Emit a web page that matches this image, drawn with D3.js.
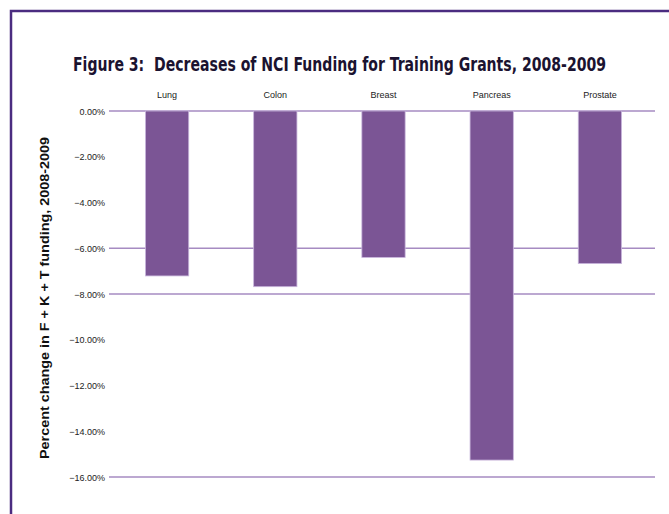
<!DOCTYPE html>
<html>
<head>
<meta charset="utf-8">
<script src="https://cdn.jsdelivr.net/npm/d3@7"></script>
<style>
body{margin:0;background:#fff}
svg{display:block}
</style>
</head>
<body>
<div id="chart"></div>
<script>
// data
const cancers=["Lung","Colon","Breast","Pancreas","Prostate"]
const pctChange=[-7.21,-7.68,-6.40,-15.26,-6.67]
const yTicks=[0,-2,-4,-6,-8,-10,-12,-14,-16]
const gridAt=[0,-6,-8,-16]

const W=669,H=514
let svg=d3.select('#chart').append('svg').attr('width',W).attr('height',H)

// frame
svg.append('path').attr('d','M11,600 L11,11 L680,11')
  .attr('fill','none').attr('stroke','#4b2c80').attr('stroke-width',2.5)

svg.append('text').attr('x',73).attr('y',71)
  .attr('textLength',533).attr('lengthAdjust','spacingAndGlyphs')
  .style('white-space','pre')
  .style('font-family','"DejaVu Sans Condensed","Liberation Sans Narrow",sans-serif')
  .style('font-weight','bold').style('font-size','20px').attr('fill','#1b1330')
  .text('Figure 3:  Decreases of NCI Funding for Training Grants, 2008-2009')

let x=d3.scaleBand().domain(cancers).range([113,654]).paddingInner(0.6).paddingOuter(0.3)
let y=d3.scaleLinear().domain([0,-16]).range([111,477])

// grid lines (only some are drawn in the original)
svg.append('g').selectAll('line').data(gridAt).join('line')
  .attr('x1',109).attr('x2',655)
  .attr('y1',d=>y(d)).attr('y2',d=>y(d))
  .attr('stroke','#a68bc2').attr('stroke-width',1.6)

// y tick labels
let yaxis=d3.axisLeft(y).tickValues(yTicks).tickSize(0).tickPadding(0)
  .tickFormat(d=>d3.format('.2f')(d)+'%')
let ya=svg.append('g').attr('transform','translate(105,0)').call(yaxis)
ya.select('.domain').remove()
ya.selectAll('text').style('font-family','"Liberation Sans",Arial,sans-serif')
  .style('font-size','9px').attr('fill','#222').attr('dy','0.35em')

// category labels across the top
svg.append('g').selectAll('text').data(cancers).join('text')
  .attr('x',d=>x(d)+x.bandwidth()/2).attr('y',98)
  .attr('text-anchor','middle')
  .style('font-family','"Liberation Sans",Arial,sans-serif').style('font-size','9px')
  .attr('fill','#222').text(d=>d)

// bars
svg.append('g').selectAll('rect').data(cancers).join('rect')
  .attr('x',d=>x(d)).attr('width',x.bandwidth())
  .attr('y',y(0)).attr('height',(d,i)=>y(pctChange[i])-y(0))
  .attr('fill','#7b5595').attr('stroke','#c9b6dc').attr('stroke-width',0.8)

// axis title
svg.append('text').attr('transform','translate(49,298) rotate(-90)')
  .attr('text-anchor','middle')
  .attr('textLength',322).attr('lengthAdjust','spacingAndGlyphs')
  .style('font-family','"Liberation Sans",Arial,sans-serif')
  .style('font-weight','bold').style('font-size','13px').attr('fill','#111')
  .text('Percent change in F + K + T funding, 2008-2009')
</script>
</body>
</html>
